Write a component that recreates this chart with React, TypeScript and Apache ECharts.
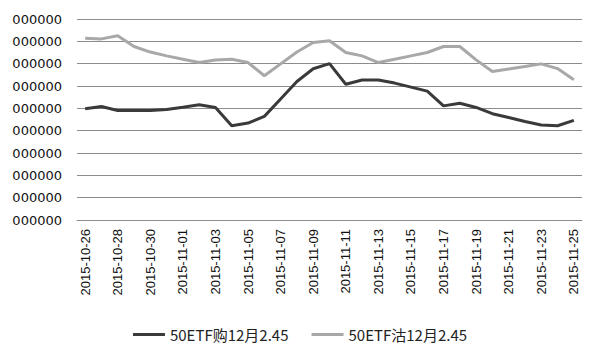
import React, { useEffect, useRef } from "react";
import * as echarts from "echarts";

const categories = [
  "2015-10-26","2015-10-27","2015-10-28","2015-10-29","2015-10-30","2015-10-31",
  "2015-11-01","2015-11-02","2015-11-03","2015-11-04","2015-11-05","2015-11-06",
  "2015-11-07","2015-11-08","2015-11-09","2015-11-10","2015-11-11","2015-11-12",
  "2015-11-13","2015-11-14","2015-11-15","2015-11-16","2015-11-17","2015-11-18",
  "2015-11-19","2015-11-20","2015-11-21","2015-11-22","2015-11-23","2015-11-24",
  "2015-11-25",
];

const callSeries = [
  4.98, 5.08, 4.9, 4.9, 4.9, 4.95, 5.05, 5.16, 5.04, 4.22, 4.34, 4.64,
  5.42, 6.2, 6.77, 7.0, 6.08, 6.27, 6.27, 6.13, 5.95, 5.77, 5.11, 5.23,
  5.04, 4.76, 4.59, 4.41, 4.25, 4.22, 4.46,
];

const putSeries = [
  8.14, 8.11, 8.25, 7.77, 7.52, 7.35, 7.2, 7.05, 7.16, 7.2, 7.05, 6.46,
  6.99, 7.52, 7.95, 8.03, 7.5, 7.35, 7.05, 7.2, 7.35, 7.5, 7.77, 7.77,
  7.17, 6.65, 6.76, 6.87, 6.99, 6.78, 6.28,
];

const seriesNames = ["50ETF购12月2.45", "50ETF沽12月2.45"];
const yTickLabel = "000000";

export default function App() {
  const ref = useRef<HTMLDivElement>(null);
  useEffect(() => {
    if (!ref.current) return;
    const chart = echarts.init(ref.current, undefined, { renderer: "svg" });
    chart.setOption({
      animation: false,
      backgroundColor: "#ffffff",
      grid: { left: 77, right: 18, top: 19, bottom: 136, containLabel: false },
      legend: {
        bottom: 9,
        left: "center",
        itemWidth: 32,
        itemHeight: 3,
        itemGap: 23,
        icon: "rect",
        textStyle: { fontSize: 15, color: "#222", fontFamily: "Noto Sans CJK SC" },
        data: seriesNames,
      },
      xAxis: {
        type: "category",
        data: categories,
        boundaryGap: true,
        axisLine: { show: true, lineStyle: { color: "#8c8c8c", width: 1 } },
        axisTick: { show: false },
        axisLabel: {
          interval: 1,
          rotate: 90,
          margin: 9,
          fontSize: 13,
          color: "#111",
          fontFamily: "Liberation Sans",
        },
      },
      yAxis: {
        type: "value",
        min: 0,
        max: 9,
        interval: 1,
        axisLine: { show: false },
        axisTick: { show: false },
        splitLine: { lineStyle: { color: "#8c8c8c", width: 1 } },
        axisLabel: {
          formatter: () => yTickLabel,
          margin: 15,
          fontSize: 13,
          color: "#111",
          fontFamily: "DejaVu Sans",
        },
      },
      series: [
        {
          name: seriesNames[0],
          type: "line",
          data: callSeries,
          symbol: "none",
          lineStyle: { color: "#3a3a3a", width: 3 },
          itemStyle: { color: "#3a3a3a" },
        },
        {
          name: seriesNames[1],
          type: "line",
          data: putSeries,
          symbol: "none",
          lineStyle: { color: "#a8a8a8", width: 3 },
          itemStyle: { color: "#a8a8a8" },
        },
      ],
    });
    return () => chart.dispose();
  }, []);
  return <div ref={ref} style={{ width: 600, height: 356, position: "absolute", left: 0, top: 0 }} />;
}
